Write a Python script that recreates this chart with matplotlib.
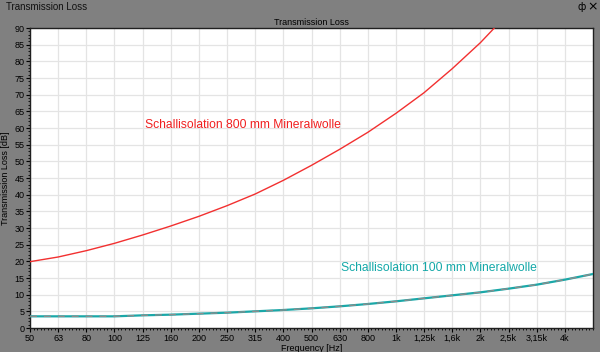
import matplotlib
matplotlib.use("Agg")
import matplotlib.pyplot as plt
from matplotlib.ticker import MultipleLocator
import numpy as np

plt.rcParams['font.family'] = ['Liberation Sans', 'DejaVu Sans']

band_labels = ["50", "63", "80", "100", "125", "160", "200", "250", "315", "400",
               "500", "630", "800", "1k", "1,25k", "1,6k", "2k", "2,5k", "3,15k", "4k", "5k"]
tl_800mm = [19.9, 21.3, 23.2, 25.4, 27.9, 30.6, 33.5, 36.7, 40.2, 44.3,
            48.8, 53.6, 58.7, 64.4, 70.6, 77.8, 85.6, 94.5, 104.0, 114.0, 125.0]
tl_100mm = [3.5, 3.5, 3.5, 3.5, 3.8, 4.0, 4.3, 4.6, 5.0, 5.4,
            5.9, 6.5, 7.2, 8.0, 8.9, 9.8, 10.7, 11.8, 13.0, 14.5, 16.2]
label_800 = "Schallisolation 800 mm Mineralwolle"
label_100 = "Schallisolation 100 mm Mineralwolle"

bg = "#808080"
fig = plt.figure(figsize=(6, 3.52), dpi=100, facecolor=bg)
ax = fig.add_axes([30/600, 24/352, 563/600, 300/352])
ax.set_facecolor("white")

x = np.arange(len(band_labels))
ax.plot(x, tl_800mm, color="#f23030", lw=1.0, zorder=3)
ax.plot(x, tl_100mm, color="#1aa8a8", lw=1.6, zorder=3)
ax.plot(x, tl_100mm, color="#8c8c8c", lw=1.0, dashes=(5, 5), zorder=4)

ax.set_xlim(0, len(band_labels) - 1)
ax.set_ylim(0, 90)
ax.set_xticks(x[:-1])
ax.set_xticklabels(band_labels[:-1])
ax.yaxis.set_major_locator(MultipleLocator(5))
ax.yaxis.set_minor_locator(MultipleLocator(1))
ax.xaxis.set_minor_locator(MultipleLocator(0.125))
ax.grid(True, which="major", color="#e4e4e4", lw=0.9, zorder=0)
ax.set_axisbelow(True)

ax.tick_params(axis="both", which="major", labelsize=6.5, length=3, width=0.8,
               color="black", labelcolor="black", pad=1)
ax.tick_params(axis="both", which="minor", length=1.5, width=0.6, color="black")
for s in ax.spines.values():
    s.set_color("#202020")
    s.set_linewidth(1.0)

ax.set_ylabel("Transmission Loss [dB]", fontsize=6.5, labelpad=3)
ax.set_xlabel("Frequency [Hz]", fontsize=6.5, labelpad=1)
ax.set_title("Transmission Loss", fontsize=6.5, pad=2)

ax.text(4.08, 61, label_800, color="#f02020", fontsize=8.7, va="center", ha="left")
ax.text(11.06, 18, label_100, color="#14a8a8", fontsize=8.7, va="center", ha="left")

fig.text(6/600, 1 - 7/352, "Transmission Loss", fontsize=7, color="#111111",
         va="center", ha="left")
fig.text(593/600, 1 - 7/352, "×", fontsize=9, color="black", va="center", ha="center",
         family="DejaVu Sans")
fig.text(582/600, 1 - 7/352, "ф", fontsize=7, color="black", va="center", ha="center",
         family="DejaVu Sans")

fig.savefig("out.png", dpi=100, facecolor=bg)
